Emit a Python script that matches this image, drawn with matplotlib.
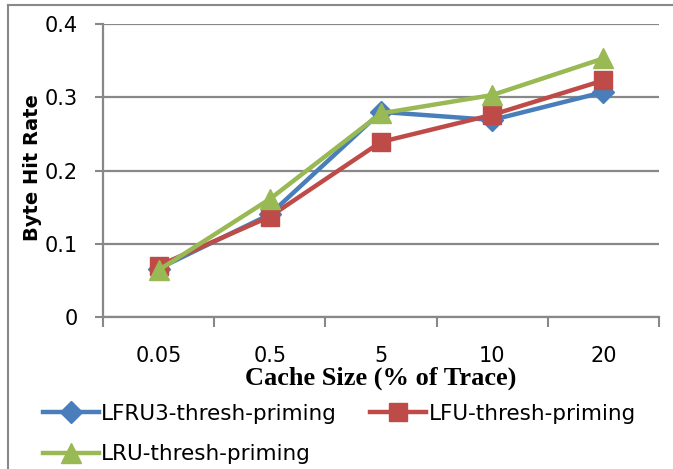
import numpy as np
import matplotlib
matplotlib.use('Agg')
import matplotlib.pyplot as plt
from matplotlib.lines import Line2D

categories = ['0.05', '0.5', '5', '10', '20']
lfru3 = [0.066, 0.140, 0.280, 0.269, 0.307]
lfu = [0.070, 0.137, 0.239, 0.276, 0.323]
lru = [0.064, 0.161, 0.278, 0.303, 0.353]

grey = '#888888'
sans = 'DejaVu Sans'
fig = plt.figure(figsize=(6.73, 4.69), dpi=100)
ax = fig.add_axes([103/673, 1-317/469, 556/673, 293/469])

x = np.arange(len(categories))
l1, = ax.plot(x, lfru3, color='#4a7ebb', lw=3.2, marker='D', ms=11, label='LFRU3-thresh-priming', zorder=3)
l2, = ax.plot(x, lfu, color='#be4b48', lw=3.2, marker='s', ms=13, label='LFU-thresh-priming', zorder=4)
l3, = ax.plot(x, lru, color='#98b954', lw=3.2, marker='^', ms=14, label='LRU-thresh-priming', zorder=5)

ax.set_xlim(-0.5, len(categories)-0.5)
ax.set_ylim(0, 0.4)
ax.set_yticks([0, 0.1, 0.2, 0.3, 0.4])
ax.set_yticklabels(['0', '0.1', '0.2', '0.3', '0.4'])
ax.set_xticks(x)
ax.set_xticklabels(categories)
ax.set_xticks(np.arange(-0.5, len(categories)), minor=True)
ax.tick_params(axis='x', which='major', length=0, pad=21, labelsize=15)
ax.tick_params(axis='x', which='minor', length=7, width=1.5, color=grey)
ax.tick_params(axis='y', length=6, width=1.5, color=grey, labelsize=15, pad=12)
for t in ax.get_xticklabels() + ax.get_yticklabels():
    t.set_family(sans)

ax.grid(axis='y', color=grey, lw=1.6)
ax.set_axisbelow(True)
for s in ['top', 'right']:
    ax.spines[s].set_visible(False)
for s in ['left', 'bottom']:
    ax.spines[s].set_color(grey)
    ax.spines[s].set_linewidth(1.6)

ax.set_ylabel('Byte Hit Rate', family=sans, fontweight='bold', fontsize=14, labelpad=0)
ax.yaxis.set_label_coords(-0.11, 0.51)
ax.set_xlabel('Cache Size (% of Trace)', family='Liberation Serif', fontweight='bold', fontsize=19, labelpad=0)
ax.xaxis.set_label_coords(0.5, -(378-317)/293, transform=ax.transAxes)
ax.xaxis.label.set_va('center')

fig.legend([l1, l3, l2], [l1.get_label(), l3.get_label(), l2.get_label()],
           loc='upper left', bbox_to_anchor=(43/673, 1-404/469), ncol=2, frameon=False,
           prop={'family': sans, 'size': 15.5}, handlelength=2.6, handletextpad=0.1,
           columnspacing=1.55, labelspacing=0.95, borderaxespad=0, borderpad=0)

# outer chart border (top and left visible)
fig.add_artist(Line2D([8/673, 1], [1-5/469, 1-5/469], color=grey, lw=1.5, transform=fig.transFigure))
fig.add_artist(Line2D([8/673, 8/673], [0, 1-5/469], color=grey, lw=1.5, transform=fig.transFigure))

fig.savefig('out.png', dpi=100)
